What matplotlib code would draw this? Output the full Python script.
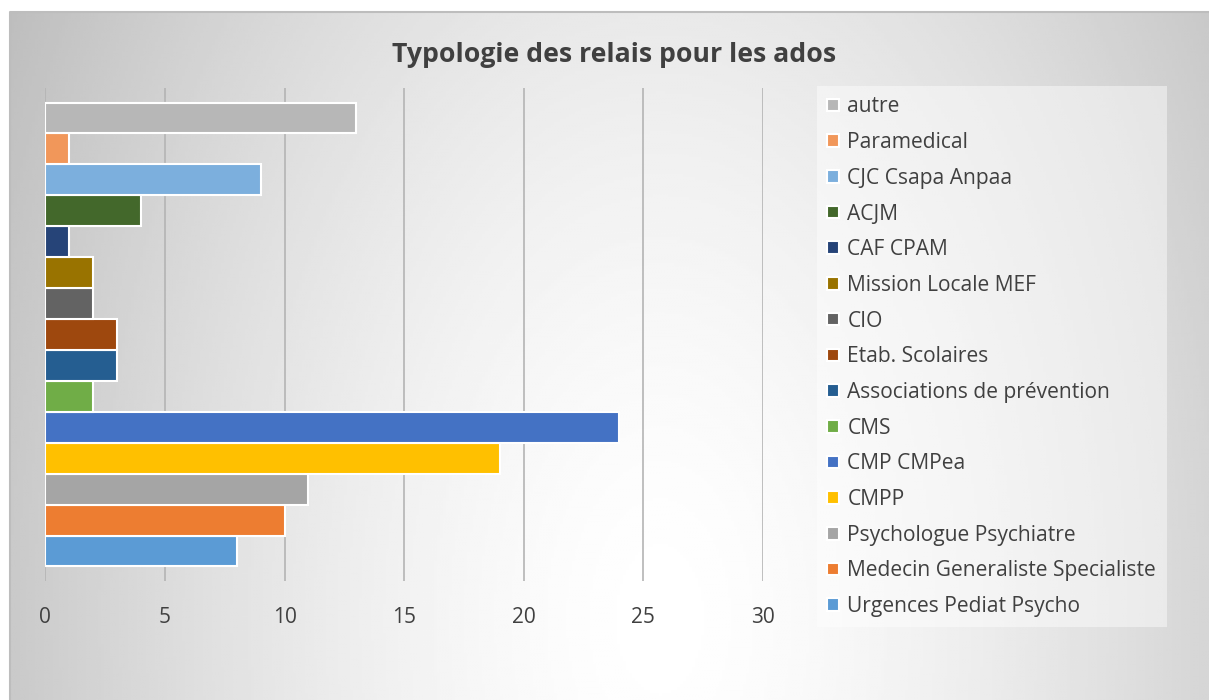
import numpy as np
import matplotlib.pyplot as plt
from matplotlib.lines import Line2D

plt.rcParams['font.family'] = ['Open Sans', 'DejaVu Sans']

# series from bottom to top (as drawn)
labels = ["Urgences Pediat Psycho", "Medecin Generaliste Specialiste",
          "Psychologue Psychiatre", "CMPP", "CMP CMPea", "CMS",
          "Associations de prévention", "Etab. Scolaires", "CIO",
          "Mission Locale MEF", "CAF CPAM", "ACJM", "CJC Csapa Anpaa",
          "Paramedical", "autre"]
values = [8, 10, 11, 19, 24, 2, 3, 3, 2, 2, 1, 4, 9, 1, 13]
colors = ["#5B9BD5", "#ED7D31", "#A5A5A5", "#FFC000", "#4472C4", "#70AD47",
          "#255E91", "#9E480E", "#636363", "#997300", "#264478", "#43682B",
          "#7CAFDD", "#F1975A", "#B7B7B7"]
xticks = [0, 5, 10, 15, 20, 25, 30]

W, H = 1209, 700
fig = plt.figure(figsize=(W / 100, H / 100), dpi=100)

# background gradient (chart area)
bg = fig.add_axes([10 / W, 0, 1 - 10 / W, 1 - 12 / H])
xx, yy = np.meshgrid(np.linspace(10, W, 400), np.linspace(12, H, 240))
nx = (xx - 660) / 650
ny = (yy - 620) / 1100
r = np.sqrt(nx ** 2 + ny ** 2)
c = 1 - 0.21 * np.clip(r, 0, 1.25) ** 1.5
bg.imshow(c, cmap='gray', vmin=0, vmax=1, aspect='auto',
          extent=[0, 1, 0, 1], origin='upper', interpolation='bilinear')
bg.set_axis_off()
# top and left border of the chart area
fig.lines.append(Line2D([10 / W, 10 / W, 1], [0, 1 - 12 / H, 1 - 12 / H],
                        transform=fig.transFigure, color='#bdbdbd',
                        linewidth=1.5))

ax = fig.add_axes([45.3 / W, 1 - 581 / H, (763 - 45.3) / W, (581 - 88) / H])
ax.set_facecolor('none')
for i in range(len(values)):
    ax.barh(i, values[i], height=1.0, color=colors[i], edgecolor='white',
            linewidth=1.5, label=labels[i], zorder=3)

ax.set_xlim(0, 30)
ax.set_ylim(-0.97, 14.97)
ax.set_xticks(xticks)
ax.set_yticks([])
ax.grid(axis='x', color='#b4b4b4', linewidth=1.2, zorder=0)
ax.tick_params(axis='x', length=0, pad=19, labelsize=15, labelcolor='#404040')
for s in ax.spines.values():
    s.set_visible(False)

fig.text(614 / W, 1 - 55 / H, "Typologie des relais pour les ados",
         ha='center', va='center', fontsize=19.2, fontweight='bold',
         color='#404040')

h, l = ax.get_legend_handles_labels()
leg = fig.legend(h[::-1], l[::-1], loc='upper left',
                 bbox_to_anchor=(817 / W, 1 - 86 / H), fontsize=15.1,
                 frameon=True, fancybox=False, labelspacing=0.70,
                 handlelength=0.55, handleheight=0.55, handletextpad=0.4,
                 borderpad=0.5, borderaxespad=0)
leg.get_frame().set_facecolor('white')
leg.get_frame().set_alpha(0.45)
leg.get_frame().set_linewidth(0)
for t in leg.get_texts():
    t.set_color('#404040')

fig.savefig("out.png", dpi=100)
